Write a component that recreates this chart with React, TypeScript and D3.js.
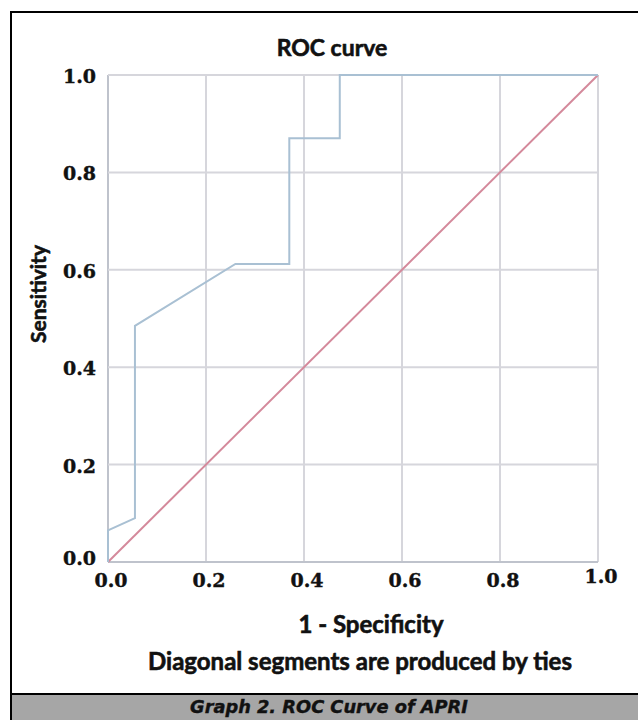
import React, { useEffect, useRef } from 'react';
import * as d3 from 'd3';

// ROC points (1 - specificity, sensitivity)
const fprValues = [0, 0, 0.055, 0.055, 0.26, 0.37, 0.37, 0.473, 0.473, 1.0];
const tprValues = [0, 0.065, 0.09, 0.485, 0.612, 0.612, 0.87, 0.87, 1.0, 1.0];
const refLine = [0, 1];
const tickValues = [0, 0.2, 0.4, 0.6, 0.8, 1.0];

const W = 638;
const H = 720;

export default function App() {
  const ref = useRef<SVGSVGElement>(null);

  useEffect(() => {
    const svg = d3.select(ref.current);
    svg.selectAll('*').remove();

    const x = d3.scaleLinear().domain([0, 1]).range([108, 598]);
    const y = d3.scaleLinear().domain([0, 1]).range([562, 75]);

    // frame
    svg.append('rect').attr('x', 0).attr('y', 0).attr('width', W).attr('height', H).attr('fill', '#fff');
    svg.append('line').attr('x1', 10).attr('x2', W).attr('y1', 12).attr('y2', 12)
      .attr('stroke', '#000').attr('stroke-width', 2);
    svg.append('line').attr('x1', 11).attr('x2', 11).attr('y1', 11).attr('y2', H)
      .attr('stroke', '#000').attr('stroke-width', 2);
    svg.append('rect').attr('x', 12).attr('y', 694).attr('width', W - 12).attr('height', H - 694)
      .attr('fill', '#a6a6a6');
    svg.append('line').attr('x1', 10).attr('x2', W).attr('y1', 694).attr('y2', 694)
      .attr('stroke', '#000').attr('stroke-width', 2);

    // grid
    const grid = svg.append('g');
    grid.selectAll('line.v').data(tickValues).enter().append('line')
      .attr('x1', d => x(d)).attr('x2', d => x(d))
      .attr('y1', y(0)).attr('y2', y(1))
      .attr('stroke', d => (d === 0 ? '#bfc3cc' : '#d6d6dc')).attr('stroke-width', 2);
    grid.selectAll('line.h').data(tickValues).enter().append('line')
      .attr('y1', d => y(d)).attr('y2', d => y(d))
      .attr('x1', x(0)).attr('x2', x(1))
      .attr('stroke', d => (d === 0 ? '#bfc3cc' : '#d6d6dc')).attr('stroke-width', 2);

    // tick labels
    const tickFont = '"DejaVu Serif", serif';
    svg.append('g').selectAll('text').data(tickValues).enter().append('text')
      .attr('x', 96).attr('y', d => y(d) + (d === 0 ? -4 : 1))
      .attr('text-anchor', 'end').attr('dominant-baseline', 'central')
      .style('font-family', tickFont).style('font-weight', 'bold').style('font-size', '19px')
      .attr('fill', '#111').attr('stroke', '#111').attr('stroke-width', 0.4)
      .text(d => d3.format('.1f')(d));
    svg.append('g').selectAll('text').data(tickValues).enter().append('text')
      .attr('x', d => x(d) + 3).attr('y', d => (d === 1 ? 583 : 587))
      .attr('text-anchor', 'middle')
      .style('font-family', tickFont).style('font-weight', 'bold').style('font-size', '19px')
      .attr('fill', '#111').attr('stroke', '#111').attr('stroke-width', 0.4)
      .text(d => d3.format('.1f')(d));

    // reference diagonal
    svg.append('path')
      .attr('d', d3.line<number>().x(d => x(d)).y(d => y(d))(refLine))
      .attr('fill', 'none').attr('stroke', '#d4899b').attr('stroke-width', 2);

    // ROC curve
    const pts = fprValues.map((f, i) => [f, tprValues[i]] as [number, number]);
    svg.append('path')
      .attr('d', d3.line<[number, number]>().x(d => x(d[0])).y(d => y(d[1]))(pts))
      .attr('fill', 'none').attr('stroke', '#a9c0d3').attr('stroke-width', 2);

    // titles (a thin stroke makes Lato look as heavy as the original)
    const labelFont = 'Lato, "Open Sans", sans-serif';
    const label = (t: string, size: number) =>
      svg.append('text').attr('text-anchor', 'middle')
        .style('font-family', labelFont).style('font-weight', 'bold').style('font-size', size + 'px')
        .attr('fill', '#111').attr('stroke', '#111').attr('stroke-width', 0.6)
        .text(t);
    label('ROC curve', 23).attr('x', 332).attr('y', 56);
    label('Sensitivity', 21).attr('transform', 'translate(46,294) rotate(-90)');
    label('1 - Specificity', 24).attr('x', 371).attr('y', 633);
    label('Diagonal segments are produced by ties', 24).attr('x', 360).attr('y', 670);

    svg.append('text').attr('x', 329).attr('y', 713).attr('text-anchor', 'middle')
      .style('font-family', '"DejaVu Sans", sans-serif').style('font-weight', 'bold')
      .style('font-style', 'italic').style('font-size', '17.8px')
      .attr('fill', '#111').attr('stroke', '#111').attr('stroke-width', 0.4)
      .text('Graph 2. ROC Curve of APRI');
  }, []);

  return (
    <svg ref={ref} width={W} height={H} style={{ position: 'absolute', left: 0, top: 0 }} />
  );
}
